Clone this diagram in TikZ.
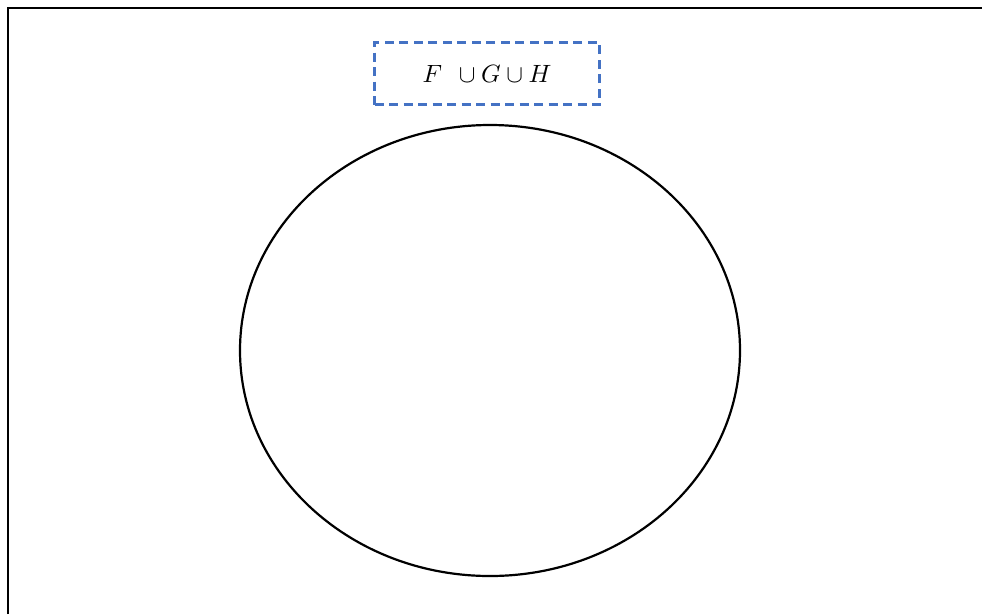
\documentclass[tikz,border=0pt]{standalone}
\usepackage{graphicx}
\usetikzlibrary{calc,shapes.geometric}
\definecolor{dashblue}{HTML}{4472C4}
\tikzset{
  framestyle/.style={line width=2.2pt, black},
  labelbox/.style={draw=dashblue, line width=2.4pt, dash pattern=on 9pt off 5.5pt, minimum width=225pt, minimum height=62pt, inner sep=0pt},
  setellipse/.style={line width=2.2pt, black}
}
\begin{document}
\begin{tikzpicture}[x=1pt,y=-1pt]
\useasboundingbox (0,0) rectangle (982,614);
\coordinate (fl) at (8,614);
\coordinate (ftl) at (8,8);
\coordinate (fr) at (982,8);
\draw[framestyle] (fl) -- (ftl) -- (fr);
\node[labelbox] (lbl) at (487,73.5) {\scalebox{2.5}{$F\;\,\cup G\cup H$}};
\node[setellipse, draw, ellipse, minimum width=500pt, minimum height=451pt, inner sep=0pt] (U) at (490,350.5) {};
\end{tikzpicture}
\end{document}
